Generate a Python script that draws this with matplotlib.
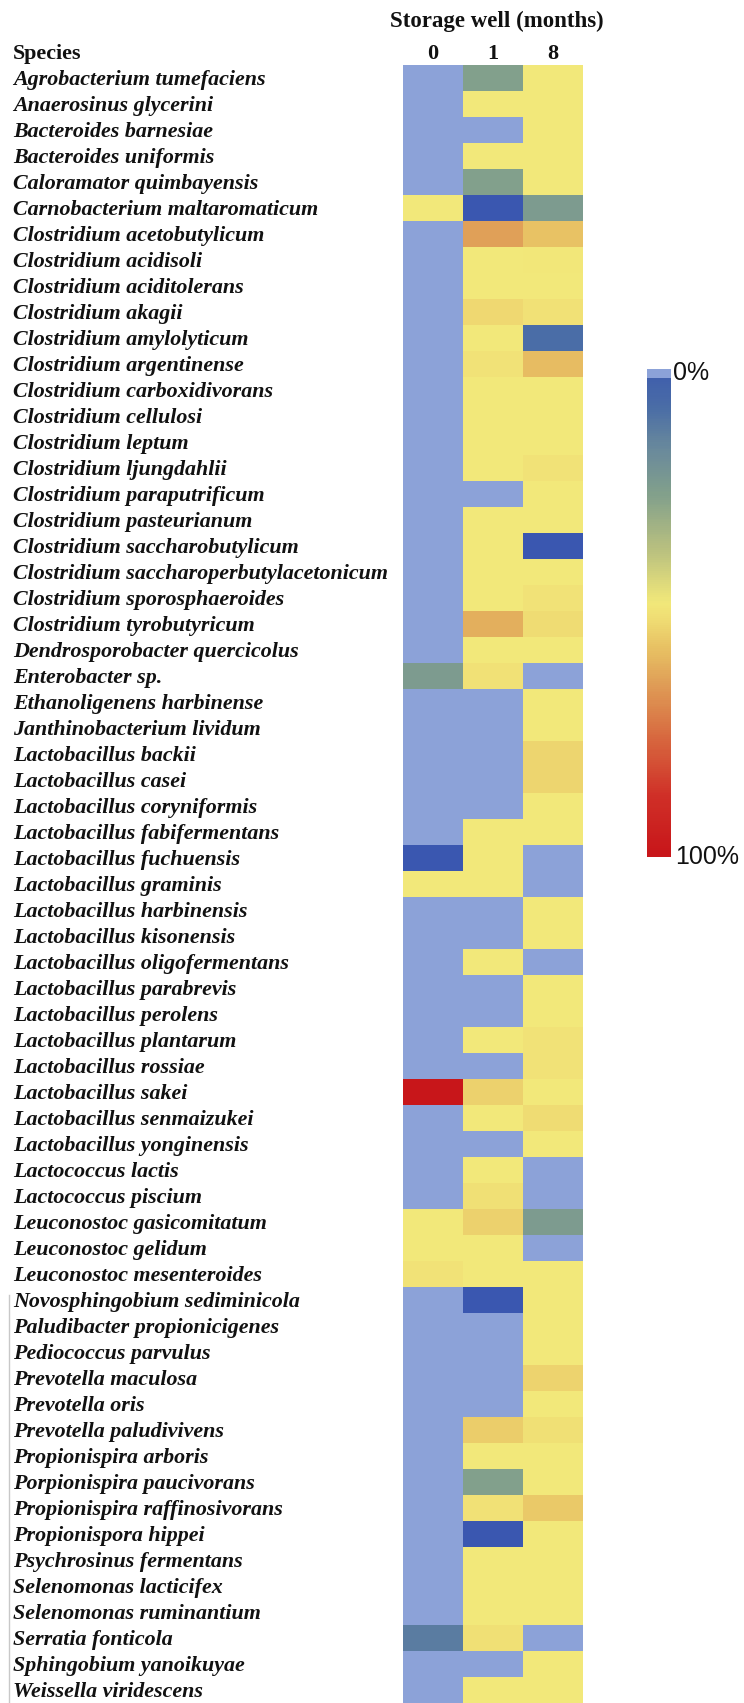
"""Heatmap of species detected in the storage well at 0, 1 and 8 months.

Writes out.png (744x1703).
"""

import numpy as np
import matplotlib

matplotlib.use("Agg")
import matplotlib.pyplot as plt
from matplotlib.colors import LinearSegmentedColormap
from matplotlib.lines import Line2D


PALETTE = {
    "absent": "#8CA2D8",
    "ink": "#111111",
    "rule": "#C8C8C8",
}

# Colour ramp used for the relative abundance (position, colour).
RAMP = [
    (0.00, "#3A57B0"),
    (0.10, "#4C6FA6"),
    (0.18, "#6A8A9C"),
    (0.27, "#82A08C"),
    (0.38, "#B8C080"),
    (0.49, "#F2E87A"),
    (0.53, "#EFDA72"),
    (0.58, "#E8C264"),
    (0.65, "#E0A058"),
    (0.76, "#D86A40"),
    (0.88, "#D03028"),
    (1.00, "#C8161A"),
]

species = [
    "Agrobacterium tumefaciens", "Anaerosinus glycerini", "Bacteroides barnesiae",
    "Bacteroides uniformis", "Caloramator quimbayensis", "Carnobacterium maltaromaticum",
    "Clostridium acetobutylicum", "Clostridium acidisoli", "Clostridium aciditolerans",
    "Clostridium akagii", "Clostridium amylolyticum", "Clostridium argentinense",
    "Clostridium carboxidivorans", "Clostridium cellulosi", "Clostridium leptum",
    "Clostridium ljungdahlii", "Clostridium paraputrificum", "Clostridium pasteurianum",
    "Clostridium saccharobutylicum", "Clostridium saccharoperbutylacetonicum",
    "Clostridium sporosphaeroides", "Clostridium tyrobutyricum",
    "Dendrosporobacter quercicolus", "Enterobacter sp.", "Ethanoligenens harbinense",
    "Janthinobacterium lividum", "Lactobacillus backii", "Lactobacillus casei",
    "Lactobacillus coryniformis", "Lactobacillus fabifermentans", "Lactobacillus fuchuensis",
    "Lactobacillus graminis", "Lactobacillus harbinensis", "Lactobacillus kisonensis",
    "Lactobacillus oligofermentans", "Lactobacillus parabrevis", "Lactobacillus perolens",
    "Lactobacillus plantarum", "Lactobacillus rossiae", "Lactobacillus sakei",
    "Lactobacillus senmaizukei", "Lactobacillus yonginensis", "Lactococcus lactis",
    "Lactococcus piscium", "Leuconostoc gasicomitatum", "Leuconostoc gelidum",
    "Leuconostoc mesenteroides", "Novosphingobium sediminicola",
    "Paludibacter propionicigenes", "Pediococcus parvulus", "Prevotella maculosa",
    "Prevotella oris", "Prevotella paludivivens", "Propionispira arboris",
    "Porpionispira paucivorans", "Propionispira raffinosivorans", "Propionispora hippei",
    "Psychrosinus fermentans", "Selenomonas lacticifex", "Selenomonas ruminantium",
    "Serratia fonticola", "Sphingobium yanoikuyae", "Weissella viridescens",
]

months = ["0", "1", "8"]

# Relative abundance on the colour ramp (0 = low, 1 = 100%); None = not detected.
month_0 = [
    None, None, None, None, None, 0.49, None, None, None, None,
    None, None, None, None, None, None, None, None, None, None,
    None, None, None, 0.25, None, None, None, None, None, None,
    0.0, 0.49, None, None, None, None, None, None, None, 1.0,
    None, None, None, None, 0.49, 0.49, 0.505, None, None, None,
    None, None, None, None, None, None, None, None, None, None,
    0.14, None, None,
]
month_1 = [
    0.27, 0.49, None, 0.49, 0.27, 0.0, 0.65, 0.49, 0.49, 0.535,
    0.49, 0.505, 0.49, 0.49, 0.49, 0.49, None, 0.49, 0.49, 0.49,
    0.49, 0.62, 0.49, 0.51, None, None, None, None, None, 0.49,
    0.49, 0.49, None, None, 0.49, None, None, 0.49, None, 0.55,
    0.49, None, 0.49, 0.515, 0.55, 0.49, 0.49, 0.0, None, None,
    None, None, 0.555, 0.49, 0.27, 0.51, 0.0, 0.49, 0.49, 0.49,
    0.515, None, 0.49,
]
month_8 = [
    0.49, 0.49, 0.49, 0.49, 0.49, 0.25, 0.58, 0.495, 0.49, 0.51,
    0.09, 0.59, 0.49, 0.49, 0.49, 0.505, 0.49, 0.49, 0.0, 0.49,
    0.505, 0.525, 0.49, None, 0.49, 0.49, 0.54, 0.54, 0.49, 0.49,
    None, None, 0.49, 0.49, None, 0.49, 0.49, 0.505, 0.505, 0.49,
    0.525, 0.49, None, None, 0.25, None, 0.49, 0.49, 0.49, 0.49,
    0.545, 0.49, 0.515, 0.49, 0.49, 0.565, 0.49, 0.49, 0.49, 0.49,
    None, 0.49, 0.49,
]

W, H = 744, 1703
SERIF = "Liberation Serif"
SANS = "Liberation Sans"


def render(out_path="out.png"):
    cmap = LinearSegmentedColormap.from_list("abund", RAMP)
    cmap.set_bad(PALETTE["absent"])

    data = np.array([month_0, month_1, month_8], dtype=float).T
    data = np.ma.masked_invalid(data)

    fig = plt.figure(figsize=(W / 100, H / 100), dpi=100, facecolor="white")

    # ---- heatmap ------------------------------------------------------
    hm_left, hm_right, hm_top = 403, 583, 65
    ax = fig.add_axes([hm_left / W, 0, (hm_right - hm_left) / W, (H - hm_top) / H])
    ax.pcolormesh(data, cmap=cmap, vmin=0, vmax=1, shading="flat")
    ax.set_xlim(0, len(months))
    ax.set_ylim(len(species), 0)
    ax.set_axis_off()

    row_h = (H - hm_top) / len(species)
    for i, name in enumerate(species):
        y = 1 - (hm_top + (i + 0.5) * row_h + 2) / H
        fig.text(13 / W, y, name, ha="left", va="center", fontsize=15.8,
                 family=SERIF, style="italic", weight="bold", color=PALETTE["ink"])

    head_y = 1 - 54 / H
    fig.text(13 / W, head_y, "Species", ha="left", va="center", fontsize=15.8,
             family=SERIF, weight="bold", color=PALETTE["ink"])
    col_w = (hm_right - hm_left) / len(months)
    for j, m in enumerate(months):
        fig.text((hm_left + (j + 0.5) * col_w) / W, head_y, m, ha="center",
                 va="center", fontsize=16, family=SERIF, weight="bold",
                 color=PALETTE["ink"])
    fig.text(497 / W, 1 - 21 / H, "Storage well (months)",
             ha="center", va="center", fontsize=16.5, family=SERIF, weight="bold",
             color=PALETTE["ink"])

    # thin rule left of the lower labels
    rule_top = hm_top + 47 * row_h + 8
    fig.add_artist(Line2D([9 / W, 9 / W], [0, 1 - rule_top / H],
                          color=PALETTE["rule"], lw=1.0))

    # ---- colour key ---------------------------------------------------
    cb_left, cb_right, cb_top, cb_bot = 647, 671, 369, 857
    cax = fig.add_axes([cb_left / W, 1 - cb_bot / H, (cb_right - cb_left) / W,
                        (cb_bot - cb_top) / H])
    grad = np.linspace(0.04, 1, 256).reshape(-1, 1)
    band = np.full((5, 1), np.nan)
    cax.imshow(np.ma.masked_invalid(np.vstack([band, grad])), aspect="auto",
               cmap=cmap, vmin=0, vmax=1, interpolation="nearest")
    cax.set_axis_off()
    fig.text(673 / W, 1 - 373 / H, "0%", ha="left", va="center", fontsize=18,
             family=SANS, color=PALETTE["ink"])
    fig.text(675 / W, 1 - 857 / H, "100%", ha="left", va="center", fontsize=18,
             family=SANS, color=PALETTE["ink"])

    fig.savefig(out_path, dpi=100, facecolor="white")
    plt.close(fig)
    return out_path


if __name__ == "__main__":
    render()
